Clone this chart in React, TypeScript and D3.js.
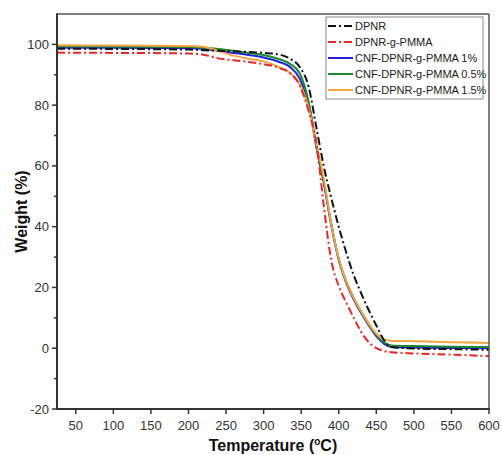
import React from "react";
import * as d3 from "d3";

const temps = [25, 100, 200, 220, 240, 260, 280, 300, 320, 335, 348, 360, 370, 380, 390, 400, 410, 420, 430, 440, 450, 460, 470, 500, 550, 600];

const dpnr = [98.6, 98.5, 98.3, 98.1, 97.9, 97.7, 97.5, 97.2, 96.7, 95.3, 92.6, 86, 73, 60, 49.5, 40, 31.5, 24, 18, 12.5, 7.5, 2.8, 0.4, -0.1, -0.3, -0.5];
const dpnrPmma = [97.3, 97.2, 97.0, 96.6, 95.4, 94.8, 94.2, 93.5, 92.3, 90.6, 86.5, 78, 68, 47, 29, 20.5, 15, 10, 5.3, 2, 0, -0.9, -1.3, -1.7, -2.1, -2.6];
const cnf1 = [98.9, 98.9, 98.7, 98.5, 97.9, 97.2, 96.5, 95.7, 94.3, 92.6, 88.8, 80.5, 66.5, 54.5, 40.5, 29, 21.5, 16, 11.5, 7.5, 4, 1.5, 0.4, 0.2, 0.1, 0];
const cnf05 = [99.3, 99.3, 99.1, 98.9, 98.5, 97.9, 97.2, 96.5, 95.2, 93.6, 90.5, 81, 67, 55, 41, 29.5, 22, 16.5, 12, 8, 4.5, 2, 0.9, 0.7, 0.5, 0.4];
const cnf15 = [99.7, 99.6, 99.5, 99.2, 97.8, 96.3, 95.3, 94.4, 92.6, 90.6, 87, 79, 67.5, 56, 41, 29.5, 22, 16.5, 12, 8, 4.8, 2.8, 2.5, 2.3, 2.0, 1.7];

const seriesNames = ["DPNR", "DPNR-g-PMMA", "CNF-DPNR-g-PMMA 1%", "CNF-DPNR-g-PMMA 0.5%", "CNF-DPNR-g-PMMA 1.5%"];
const seriesValues = [dpnr, dpnrPmma, cnf1, cnf05, cnf15];
const seriesColors = ["#111111", "#e8262a", "#2222dd", "#1b8a2e", "#f4a442"];
const seriesDash = ["8,3,2,3", "8,3,2,3", null, null, null];
const drawOrder = [2, 3, 4, 1, 0];

const xTicks = [50, 100, 150, 200, 250, 300, 350, 400, 450, 500, 550, 600];
const yTicks = [-20, 0, 20, 40, 60, 80, 100];
const yMinor = [-10, 10, 30, 50, 70, 90];

export default function App() {
  const W = 502, H = 455;
  const L = 57, R = 489, T = 14, B = 409;
  const x = d3.scaleLinear().domain([25, 600]).range([L, R]);
  const y = d3.scaleLinear().domain([-20, 110]).range([B, T]);
  const line = d3.line<[number, number]>()
    .x(d => x(d[0]))
    .y(d => y(d[1]))
    .curve(d3.curveMonotoneX);
  const font = "'Liberation Sans', Arial, sans-serif";
  const legX = 326, legY = 17, legW = 157, legH = 82;
  return (
    <svg width={W} height={H} style={{ position: "absolute", left: 0, top: 0, background: "#fff" }} fontFamily={font}>
      <defs>
        <clipPath id="plot">
          <rect x={L} y={T} width={R - L} height={B - T} />
        </clipPath>
      </defs>
      <rect x={0} y={0} width={W} height={H} fill="#fff" />
      <g clipPath="url(#plot)">
        {drawOrder.map(i => (
          <path key={i}
            d={line(temps.map((t, k) => [t, seriesValues[i][k]] as [number, number])) || ""}
            fill="none" stroke={seriesColors[i]} strokeWidth={2}
            strokeDasharray={seriesDash[i] || undefined} />
        ))}
      </g>
      {/* frame */}
      <line x1={L} x2={R} y1={T} y2={T} stroke="#555" strokeWidth={1.5} />
      <line x1={R} x2={R} y1={T} y2={B} stroke="#555" strokeWidth={1.5} />
      <line x1={L} x2={L} y1={T - 0.75} y2={B + 1} stroke="#333" strokeWidth={2} />
      <line x1={L - 1} x2={R + 0.75} y1={B} y2={B} stroke="#333" strokeWidth={2} />
      {/* y ticks */}
      {yTicks.map(v => (
        <g key={v}>
          <line x1={L - 5} x2={L} y1={y(v)} y2={y(v)} stroke="#333" strokeWidth={1.5} />
          <text x={L - 8} y={y(v)} dy="0.35em" textAnchor="end" fontSize={13} fill="#333">{v}</text>
        </g>
      ))}
      {yMinor.map(v => (
        <line key={v} x1={L - 3} x2={L} y1={y(v)} y2={y(v)} stroke="#333" strokeWidth={1.5} />
      ))}
      {/* x ticks */}
      {xTicks.map(v => (
        <g key={v}>
          <line x1={x(v)} x2={x(v)} y1={B} y2={B + 5} stroke="#333" strokeWidth={1.5} />
          <text x={x(v)} y={B + 21} textAnchor="middle" fontSize={13} fill="#333">{v}</text>
        </g>
      ))}
      {/* axis titles */}
      <text x={273} y={451} textAnchor="middle" fontSize={16} fontWeight="bold" fill="#111">
        Temperature (<tspan fontSize={10} dy={-6}>o</tspan><tspan dy={6}>C)</tspan>
      </text>
      <text transform={`translate(27,${(T + B) / 2}) rotate(-90)`} textAnchor="middle" fontSize={16} fontWeight="bold" fill="#111">
        Weight (%)
      </text>
      {/* legend */}
      <rect x={legX} y={legY} width={legW} height={legH} fill="#fff" stroke="#888" strokeWidth={1} />
      {seriesNames.map((n, i) => {
        const yy = legY + 9 + i * 16;
        return (
          <g key={n}>
            <line x1={legX + 2} x2={legX + 27} y1={yy} y2={yy} stroke={seriesColors[i]} strokeWidth={2}
              strokeDasharray={seriesDash[i] || undefined} />
            <text x={legX + 29} y={yy} dy="0.35em" fontSize={11} fill="#222">{n}</text>
          </g>
        );
      })}
    </svg>
  );
}
